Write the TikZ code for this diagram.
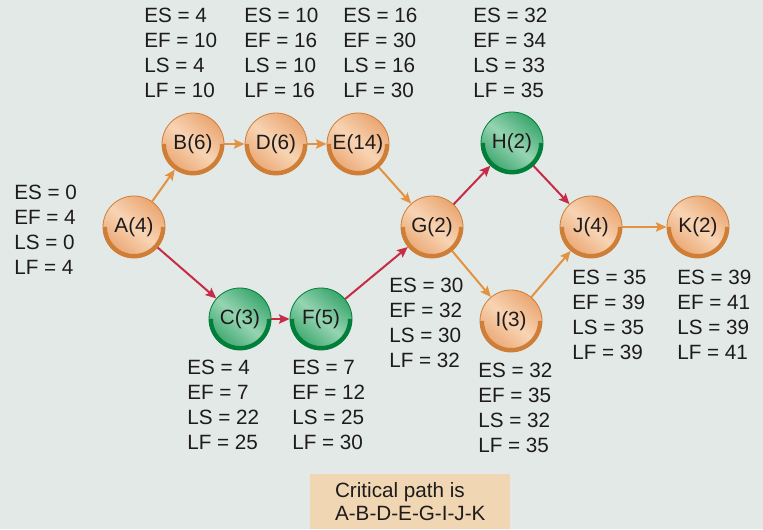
\documentclass[tikz,border=0pt]{standalone}
\usepackage{fontspec}
\setmainfont{Liberation Sans}
\usepackage{xcolor}
\usepackage{tikz}
\usetikzlibrary{arrows.meta, positioning}
\definecolor{bgpanel}{RGB}{226,233,231}
\definecolor{actorange}{RGB}{234,166,114}
\definecolor{actorangelt}{RGB}{248,212,180}
\definecolor{actorangedk}{RGB}{206,126,54}
\definecolor{actgreen}{RGB}{58,166,108}
\definecolor{actgreenlt}{RGB}{150,212,178}
\definecolor{actgreendk}{RGB}{0,126,58}
\definecolor{critline}{RGB}{226,146,64}
\definecolor{slackline}{RGB}{198,44,70}
\definecolor{notefill}{RGB}{240,214,178}
\definecolor{inktext}{RGB}{30,27,28}

\begin{document}
\begin{tikzpicture}[
  x=0.75pt, y=-0.75pt,
  every node/.style={text=inktext, font=\fontsize{15.5}{18.75}\selectfont},
  act/.style={circle, minimum size=46.5pt, inner sep=0pt, draw=#1dk, line width=0.6pt,
              left color=#1, right color=#1, middle color=#1lt, shading angle=-40,
              path picture={\draw[#1dk, line width=6pt]
                (path picture bounding box.center) ++(-23.25pt,0pt)
                arc[start angle=180, end angle=360, radius=23.25pt];}},
  crit/.style={act=actorange},
  slack/.style={act=actgreen},
  times/.style={anchor=north west, inner sep=0pt, align=left},
  note/.style={rectangle, fill=notefill, anchor=north west, align=left,
               minimum width=150pt, minimum height=41.25pt, inner sep=0pt,
               font=\fontsize{15.5}{17.25}\selectfont},
  critarrow/.style={critline, line width=1.5pt, -{Stealth[length=8pt, width=7pt, inset=1.5pt]}},
  slackarrow/.style={critarrow, slackline}
]
\fill[bgpanel] (0,0) rectangle (763,529);
\useasboundingbox (0,0) rectangle (763,529);

\node[crit]  (A) at (134,227) {A(4)};
\node[crit]  (B) at (193,144) {B(6)};
\node[crit]  (D) at (276,144) {D(6)};
\node[crit]  (E) at (358,144) {E(14)};
\node[slack] (C) at (240,319) {C(3)};
\node[slack] (F) at (321,319) {F(5)};
\node[crit]  (G) at (432,227) {G(2)};
\node[slack] (H) at (512,143) {H(2)};
\node[crit]  (I) at (511,321) {I(3)};
\node[crit]  (J) at (591,227) {J(4)};
\node[crit]  (K) at (698,227) {K(2)};

\node[times] (A-t) at (14,185) {ES = 0\\EF = 4\\LS = 0\\LF = 4};
\node[times] (B-t) at (144,8)  {ES = 4\\EF = 10\\LS = 4\\LF = 10};
\node[times] (D-t) at (244,8)  {ES = 10\\EF = 16\\LS = 10\\LF = 16};
\node[times] (E-t) at (343,8)  {ES = 16\\EF = 30\\LS = 16\\LF = 30};
\node[times] (H-t) at (473,8)  {ES = 32\\EF = 34\\LS = 33\\LF = 35};
\node[times] (C-t) at (187,360) {ES = 4\\EF = 7\\LS = 22\\LF = 25};
\node[times] (F-t) at (292,360) {ES = 7\\EF = 12\\LS = 25\\LF = 30};
\node[times] (G-t) at (389,278) {ES = 30\\EF = 32\\LS = 30\\LF = 32};
\node[times] (I-t) at (478,363) {ES = 32\\EF = 35\\LS = 32\\LF = 35};
\node[times] (J-t) at (572,270) {ES = 35\\EF = 39\\LS = 35\\LF = 39};
\node[times] (K-t) at (677,270) {ES = 39\\EF = 41\\LS = 39\\LF = 41};

\node[note] (critnote) at (310,474) {Critical path is\\A-B-D-E-G-I-J-K};

\draw[critarrow] (A) -- (B);
\draw[critarrow] (B) -- (D);
\draw[critarrow] (D) -- (E);
\draw[critarrow] (E) -- (G);
\draw[critarrow] (G) -- (I);
\draw[critarrow] (I) -- (J);
\draw[critarrow] (J) -- (K);
\draw[slackarrow] (A) -- (C);
\draw[slackarrow] (C) -- (F);
\draw[slackarrow] (F) -- (G);
\draw[slackarrow] (G) -- (H);
\draw[slackarrow] (H) -- (J);
\end{tikzpicture}
\end{document}
